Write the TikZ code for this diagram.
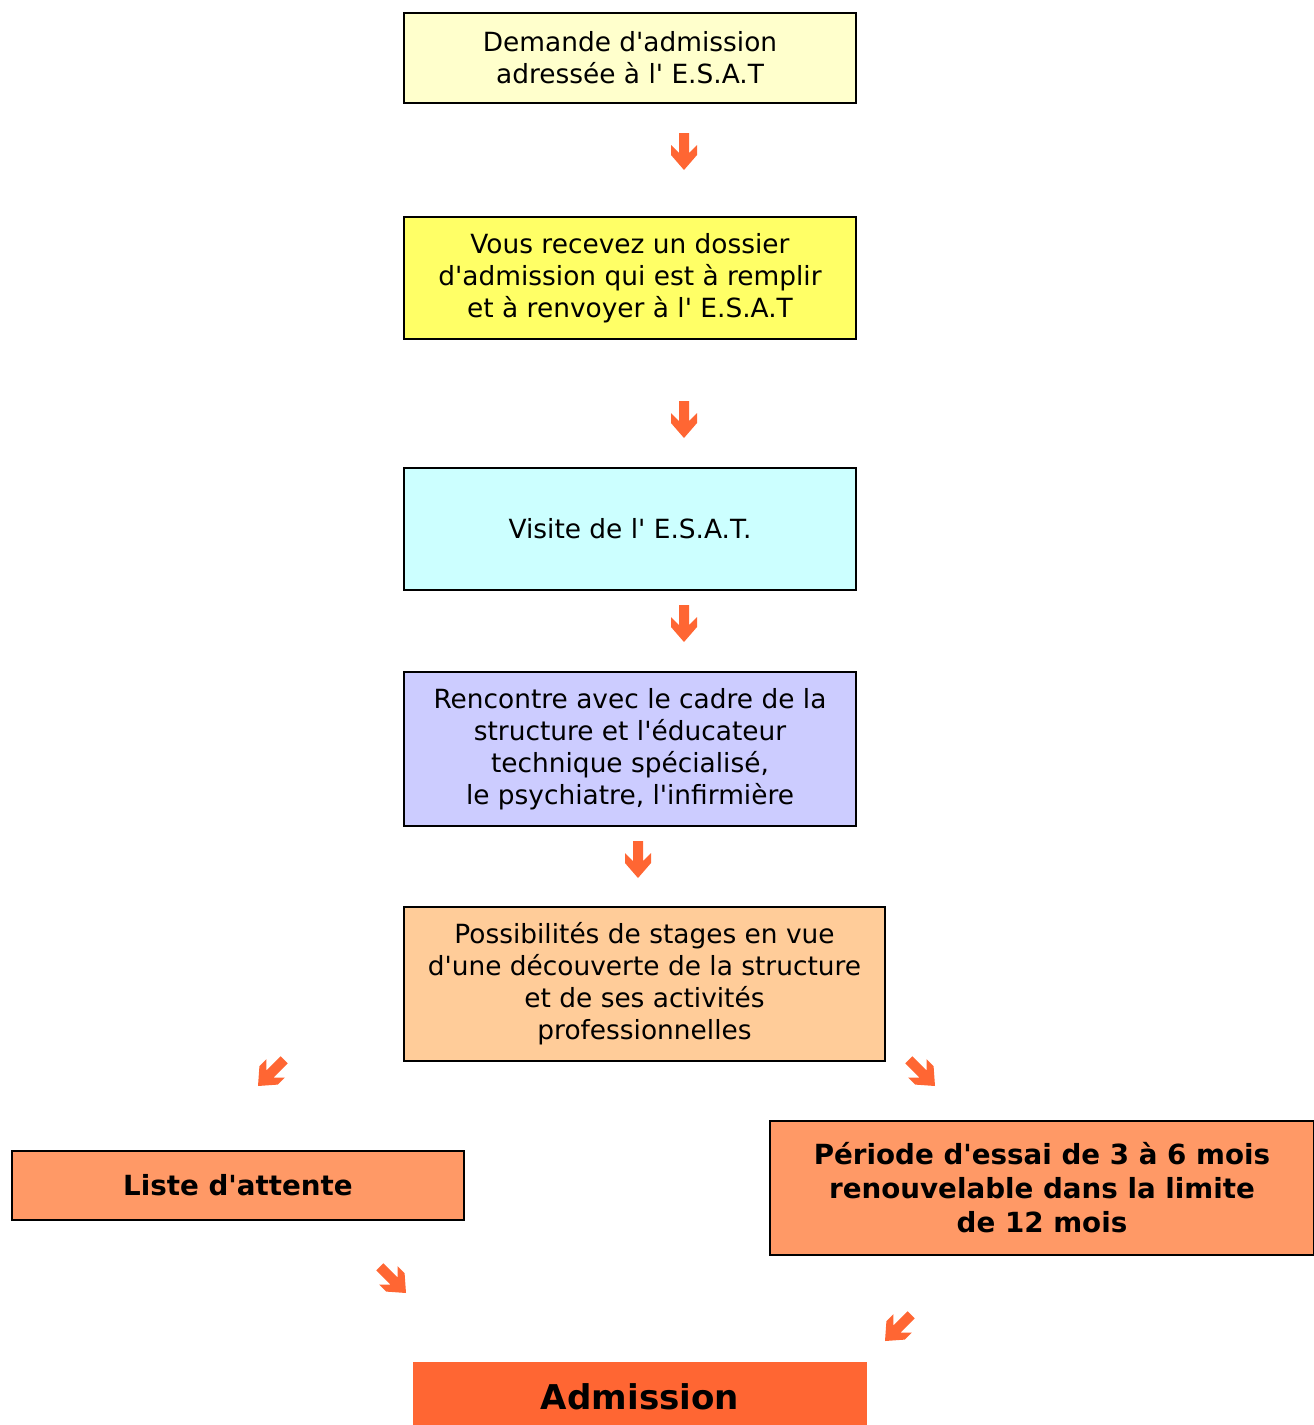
\documentclass[tikz,border=0pt]{standalone}
\usepackage{fontspec}
\setmainfont{DejaVu Sans}
\newcommand{\ap}{\textquotesingle}
\definecolor{jaunepale}{HTML}{FFFFCC}
\definecolor{jaune}{HTML}{FFFF66}
\definecolor{cyanpale}{HTML}{CCFFFF}
\definecolor{mauve}{HTML}{CCCCFF}
\definecolor{peche}{HTML}{FFCC99}
\definecolor{saumon}{HTML}{FF9966}
\definecolor{orangevif}{HTML}{FF6633}
\begin{document}
\begin{tikzpicture}[x=0.75pt,y=-0.75pt,
    boite/.style={draw=black, line width=1.5pt, align=center, inner sep=0pt,
                  font=\fontsize{19.8}{24}\selectfont},
    gras/.style={boite, font=\fontsize{20.8}{25.5}\selectfont\bfseries},
    fleche/.pic={\fill[orangevif] (-5,-37) -- (5,-37) -- (5,-17) -- (13,-25)
                 -- (13,-15) -- (0,0) -- (-13,-15) -- (-13,-25) -- (-5,-17) -- cycle;}
]
\useasboundingbox (0,0) rectangle (1314,1425);

% Etapes
\node[boite, fill=jaunepale, minimum width=339pt, minimum height=67.5pt] (demande) at (630,58)
  {Demande d\ap admission\\ adressée à l\ap{} E.S.A.T};
\node[boite, fill=jaune, minimum width=339pt, minimum height=91.5pt] (dossier) at (630,278)
  {Vous recevez un dossier\\d\ap admission qui est à remplir\\et à renvoyer à l\ap{} E.S.A.T};
\node[boite, fill=cyanpale, minimum width=339pt, minimum height=91.5pt] (visite) at (630,529)
  {Visite de l\ap{} E.S.A.T.};
\node[boite, fill=mauve, minimum width=339pt, minimum height=115.5pt] (rencontre) at (630,749)
  {Rencontre avec le cadre de la\\structure et l\ap éducateur\\technique spécialisé,\\le psychiatre, l\ap infirmière};
\node[boite, fill=peche, minimum width=360.75pt, minimum height=115.5pt] (stages) at (644.5,984)
  {Possibilités de stages en vue\\d\ap une découverte de la structure\\et de ses activités\\professionnelles};

% Issues
\node[gras, fill=saumon, minimum width=339pt, minimum height=51.75pt] (attente) at (238,1185.5)
  {Liste d\ap attente};
\node[gras, fill=saumon, minimum width=408pt, minimum height=100.5pt] (essai) at (1042,1188)
  {Période d\ap essai de 3 à 6 mois\\renouvelable dans la limite\\de 12 mois};
\node[gras, draw=none, fill=orangevif, minimum width=340.5pt, minimum height=52.5pt,
      font=\fontsize{25.6}{30}\selectfont\bfseries] (admission) at (640,1397) {Admission};

% Fleches
\pic (f1) at (684,170) {fleche};
\pic (f2) at (684,438) {fleche};
\pic (f3) at (684,642) {fleche};
\pic (f4) at (638,878) {fleche};
\pic[rotate=-45] (f5) at (258,1086) {fleche};
\pic[rotate=45] (f6) at (935,1086) {fleche};
\pic[rotate=45] (f7) at (406,1293) {fleche};
\pic[rotate=-45] (f8) at (885,1341) {fleche};

\end{tikzpicture}
\end{document}
